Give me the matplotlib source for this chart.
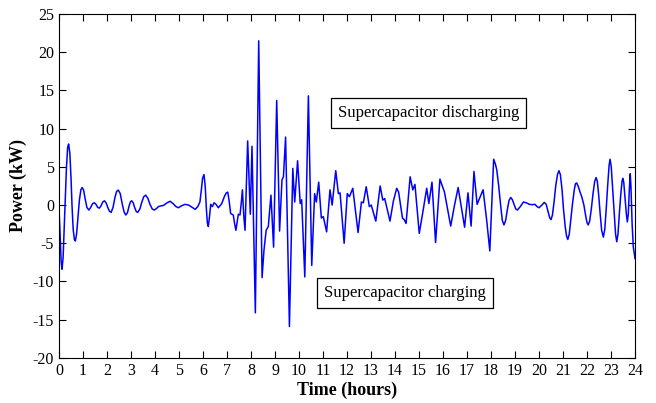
import matplotlib
matplotlib.use("Agg")
import matplotlib.pyplot as plt

# Potencia do supercapacitor (kW), em tres trechos do dia

# Trecho 1: madrugada/manha (0 h a 7,75 h)
t_manha = [
    0.00, 0.05, 0.09, 0.125, 0.17, 0.21, 0.26, 0.31, 0.36, 0.40,
    0.45, 0.50, 0.54, 0.59, 0.64, 0.68, 0.73, 0.79, 0.85, 0.91,
    0.96, 1.02, 1.09, 1.16, 1.24, 1.32, 1.40, 1.47, 1.54, 1.61,
    1.68, 1.75, 1.82, 1.89, 1.96, 2.03, 2.10, 2.17, 2.25, 2.33,
    2.40, 2.47, 2.55, 2.63, 2.71, 2.78, 2.85, 2.92, 2.98, 3.03,
    3.09, 3.16, 3.22, 3.28, 3.37, 3.45, 3.53, 3.61, 3.70, 3.79,
    3.88, 3.97, 4.06, 4.14, 4.25, 4.35, 4.50, 4.63, 4.75, 4.87,
    4.97, 5.10, 5.25, 5.40, 5.55, 5.67, 5.78, 5.87, 5.93, 5.98,
    6.04, 6.09, 6.14, 6.18, 6.22, 6.27, 6.32, 6.39, 6.46, 6.54,
    6.64, 6.78, 6.90, 6.97, 7.03, 7.09, 7.15, 7.26, 7.32, 7.37,
    7.42, 7.47, 7.54, 7.60, 7.64, 7.70, 7.75,
]
p_manha = [
    -0.5, -4.5, -7.5, -8.4, -6.8, -3.5, 0.5, 5.0, 7.6, 8.0,
    6.8, 3.5, 0.0, -3.2, -4.5, -4.7, -3.8, -1.5, 0.7, 2.0,
    2.3, 2.0, 0.8, -0.3, -0.65, -0.3, 0.2, 0.3, 0.1, -0.3,
    -0.4, -0.1, 0.4, 0.56, 0.3, -0.3, -0.8, -0.96, -0.3, 1.0,
    1.8, 1.96, 1.5, 0.2, -0.9, -1.3, -1.0, -0.1, 0.45, 0.56,
    0.3, -0.4, -0.85, -0.96, -0.5, 0.4, 1.1, 1.3, 0.9, 0.1,
    -0.5, -0.65, -0.45, -0.2, -0.1, -0.05, 0.3, 0.5, 0.2, -0.2,
    -0.35, -0.1, 0.1, 0.0, -0.3, -0.56, -0.2, 0.4, 2.0, 3.5,
    4.0, 2.5, -0.5, -2.3, -2.8, -1.5, 0.1, -0.2, 0.3, 0.1,
    -0.35, 0.2, 1.2, 1.6, 1.7, 0.5, -1.1, -1.3, -2.5, -3.3,
    -2.2, -1.2, -1.3, 0.5, 2.0, -1.5, -3.3,
]

# Trecho 2: picos (7,86 h a 17,82 h)
t_picos = [
    7.86, 7.97, 8.04, 8.18, 8.32, 8.46, 8.54, 8.63, 8.72, 8.83,
    8.94, 9.07, 9.19, 9.29, 9.35, 9.44, 9.60, 9.74, 9.82, 9.94,
    10.05, 10.11, 10.24, 10.39, 10.53, 10.65, 10.72, 10.82, 10.93, 11.01,
    11.15, 11.29, 11.38, 11.53, 11.64, 11.71, 11.88, 12.01, 12.10, 12.24,
    12.46, 12.60, 12.68, 12.80, 12.93, 13.01, 13.20, 13.38, 13.49, 13.57,
    13.79, 13.93, 14.07, 14.15, 14.31, 14.38, 14.46, 14.63, 14.74, 14.83,
    15.01, 15.15, 15.32, 15.41, 15.54, 15.69, 15.87, 16.06, 16.32, 16.48,
    16.63, 16.90, 17.04, 17.17, 17.29, 17.42, 17.67, 17.82,
]
p_picos = [
    8.4, -1.2, 7.7, -14.1, 21.5, -9.5, -5.9, -3.3, -2.8, 1.3,
    -5.5, 13.7, -3.4, 3.3, 3.7, 8.9, -15.9, 4.8, 0.4, 5.8,
    0.2, 0.7, -9.4, 14.3, -7.9, 1.5, 0.4, 3.0, -1.7, -1.5,
    -3.5, 2.0, 0.0, 4.5, 1.5, 1.6, -5.0, 1.5, 1.1, 2.2,
    -3.6, 0.4, 0.3, 2.4, -0.2, 0.0, -2.1, 2.5, 0.65, 0.85,
    -2.1, 0.5, 2.2, 1.7, -1.7, -1.9, -2.4, 3.7, 2.0, 2.7,
    -3.7, -1.1, 2.2, 0.2, 3.0, -4.9, 3.4, 1.7, -2.75, 0.0,
    2.3, -2.9, 1.6, -2.75, 4.4, 0.1, 2.0, -2.0,
]

# Trecho 3: tarde/noite (17,95 h a 24 h)
t_noite = [
    17.95, 18.03, 18.11, 18.18, 18.24, 18.32, 18.40, 18.47, 18.54, 18.61,
    18.68, 18.75, 18.82, 18.89, 18.96, 19.03, 19.10, 19.22, 19.35, 19.47,
    19.60, 19.72, 19.83, 19.92, 20.00, 20.12, 20.22, 20.30, 20.38, 20.45,
    20.50, 20.56, 20.63, 20.70, 20.77, 20.83, 20.89, 20.96, 21.02, 21.09,
    21.15, 21.20, 21.26, 21.33, 21.40, 21.47, 21.52, 21.57, 21.64, 21.71,
    21.78, 21.87, 21.95, 22.00, 22.05, 22.11, 22.18, 22.25, 22.32, 22.38,
    22.43, 22.49, 22.55, 22.61, 22.68, 22.74, 22.80, 22.86, 22.92, 22.96,
    23.01, 23.07, 23.13, 23.19, 23.24, 23.29, 23.35, 23.41, 23.46, 23.49,
    23.53, 23.59, 23.64, 23.68, 23.72, 23.76, 23.80, 23.83, 23.88, 23.93,
    24.00,
]
p_noite = [
    -6.0, 0.0, 6.0, 5.4, 4.6, 2.5, 0.0, -2.0, -2.6, -2.0,
    -0.6, 0.6, 1.0, 0.7, 0.1, -0.5, -0.65, -0.2, 0.4, 0.3,
    0.1, 0.05, 0.1, -0.2, -0.35, 0.0, 0.35, 0.1, -0.9, -1.7,
    -1.9, -1.3, 0.5, 2.6, 4.0, 4.5, 4.0, 2.0, -0.5, -2.8,
    -4.1, -4.5, -3.8, -1.8, 0.3, 2.0, 2.8, 2.9, 2.4, 1.7,
    1.1, 0.0, -1.5, -2.3, -2.6, -2.1, -0.5, 1.5, 3.1, 3.6,
    3.1, 1.2, -1.2, -3.3, -4.2, -3.2, -0.5, 2.5, 5.2, 6.0,
    5.0, 2.0, -1.2, -3.8, -4.8, -3.8, -1.0, 1.5, 3.1, 3.5,
    3.0, 0.8, -1.2, -2.2, -1.2, 1.8, 4.1, 2.5, -2.5, -5.5,
    -7.0,
]

hours = t_manha + t_picos + t_noite
power_kw = p_manha + p_picos + p_noite

x_ticks = list(range(0, 25))
y_ticks = list(range(-20, 26, 5))

plt.rcParams["font.family"] = "Liberation Serif"
plt.rcParams["axes.unicode_minus"] = False

fig = plt.figure(figsize=(6.56, 4.03), dpi=100)
ax = fig.add_axes([0.09, 0.112, 0.878, 0.853])

ax.plot(hours, power_kw, color="#0000ff", linewidth=1.1, solid_joinstyle="round")

ax.set_xlim(0, 24)
ax.set_ylim(-20, 25)
ax.set_xticks(x_ticks)
ax.set_yticks(y_ticks)
ax.tick_params(direction="in", top=True, right=True, length=5, labelsize=11.5)
ax.set_xlabel("Time (hours)", fontsize=13, fontweight="bold", labelpad=2)
ax.set_ylabel("Power (kW)", fontsize=13, fontweight="bold", labelpad=4)

caixa = dict(boxstyle="square,pad=0.42", facecolor="white", edgecolor="black", linewidth=0.9)
ax.text(11.62, 12.0, "Supercapacitor discharging", fontsize=12, ha="left", va="center", bbox=caixa)
ax.text(11.04, -11.5, "Supercapacitor charging", fontsize=12, ha="left", va="center", bbox=caixa)

plt.savefig("out.png", dpi=100)
